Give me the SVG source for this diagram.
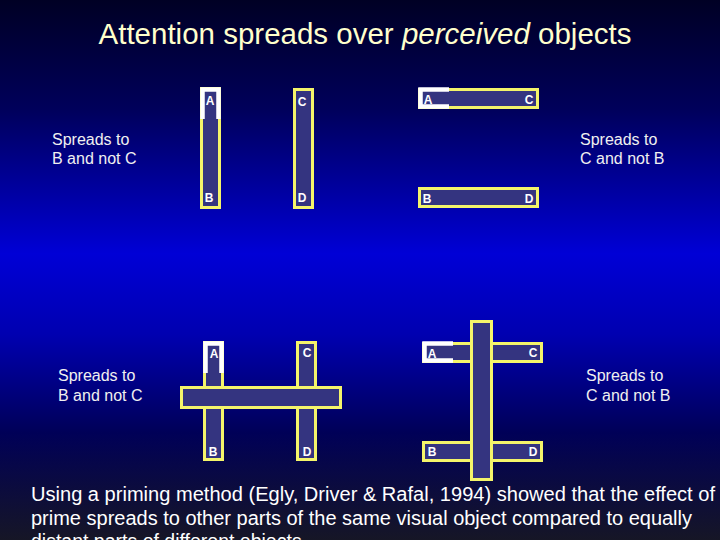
<svg xmlns="http://www.w3.org/2000/svg" width="720" height="540" viewBox="0 0 720 540">
<defs>
<linearGradient id="bg" x1="0" y1="0" x2="0" y2="1">
<stop offset="0" stop-color="#000024"/>
<stop offset="0.2" stop-color="#00005a"/>
<stop offset="0.47" stop-color="#0000d6"/>
<stop offset="0.62" stop-color="#0000b0"/>
<stop offset="0.8" stop-color="#000058"/>
<stop offset="1" stop-color="#161626"/>
</linearGradient>
<style>
.bar{fill:#343480;stroke:#f4f46a;stroke-width:3}
.cap{fill:none;stroke:#ffffff;stroke-width:4.5}
.lt{font-family:"Liberation Sans",Arial,sans-serif;font-weight:bold;font-size:12px;fill:#ffffff;text-anchor:middle}
.lab{font-family:"Liberation Sans",Arial,sans-serif;font-size:16px;fill:#f0f0f0}
.body{font-family:"Liberation Sans",Arial,sans-serif;font-size:19.5px;fill:#ffffff}
</style>
</defs>
<rect width="720" height="540" fill="url(#bg)"/>
<text x="365" y="44" text-anchor="middle" font-family="'Liberation Sans',Arial,sans-serif" font-size="29.5" fill="#ffffcc">Attention spreads over <tspan font-style="italic">perceived</tspan> objects</text>

<g id="panel1">
<rect class="bar" x="201.5" y="88.5" width="18" height="119"/>
<path class="cap" d="M202.5 119 V89.5 H218.5 V119"/>
<rect class="bar" x="294.5" y="89.5" width="18" height="118"/>
<text class="lt" x="210" y="105">A</text>
<text class="lt" x="209" y="202">B</text>
<text class="lt" x="302" y="106">C</text>
<text class="lt" x="302" y="202">D</text>
</g>

<g id="panel2">
<rect class="bar" x="419.5" y="89.5" width="118" height="18"/>
<path class="cap" d="M449 89.5 H420.5 V106.5 H449"/>
<rect class="bar" x="419.5" y="188.5" width="118" height="18"/>
<text class="lt" x="428" y="104">A</text>
<text class="lt" x="529" y="104">C</text>
<text class="lt" x="427" y="203">B</text>
<text class="lt" x="529" y="203">D</text>
</g>

<g id="panel3">
<rect class="bar" x="204.5" y="342.5" width="18" height="117"/>
<rect class="bar" x="297.5" y="342.5" width="18" height="117"/>
<rect class="bar" x="181.5" y="387.5" width="159" height="20"/>
<path class="cap" d="M205.5 373 V343.5 H221.5 V373"/>
<text class="lt" x="214" y="358">A</text>
<text class="lt" x="307" y="357">C</text>
<text class="lt" x="213" y="456">B</text>
<text class="lt" x="307" y="456">D</text>
</g>

<g id="panel4">
<rect class="bar" x="423.5" y="343.5" width="118" height="18"/>
<rect class="bar" x="423.5" y="442.5" width="118" height="18"/>
<path class="cap" d="M453 343.5 H424.5 V360.5 H453"/>
<rect class="bar" x="471.5" y="321.5" width="20" height="158"/>
<text class="lt" x="432" y="358">A</text>
<text class="lt" x="533" y="357">C</text>
<text class="lt" x="432" y="456">B</text>
<text class="lt" x="533" y="456">D</text>
</g>

<g id="labels">
<text class="lab" x="52" y="145">Spreads to</text>
<text class="lab" x="52" y="164">B and not C</text>
<text class="lab" x="580" y="145">Spreads to</text>
<text class="lab" x="580" y="164">C and not B</text>
<text class="lab" x="58" y="381">Spreads to</text>
<text class="lab" x="58" y="401">B and not C</text>
<text class="lab" x="586" y="381">Spreads to</text>
<text class="lab" x="586" y="401">C and not B</text>
</g>

<g id="caption">
<text class="body" x="31" y="501" textLength="684" lengthAdjust="spacingAndGlyphs">Using a priming method (Egly, Driver &amp; Rafal, 1994) showed that the effect of</text>
<text class="body" x="31" y="525" textLength="661" lengthAdjust="spacingAndGlyphs">prime spreads to other parts of the same visual object compared to equally</text>
<text class="body" x="31" y="548">distant parts of different objects.</text>
</g>
</svg>
